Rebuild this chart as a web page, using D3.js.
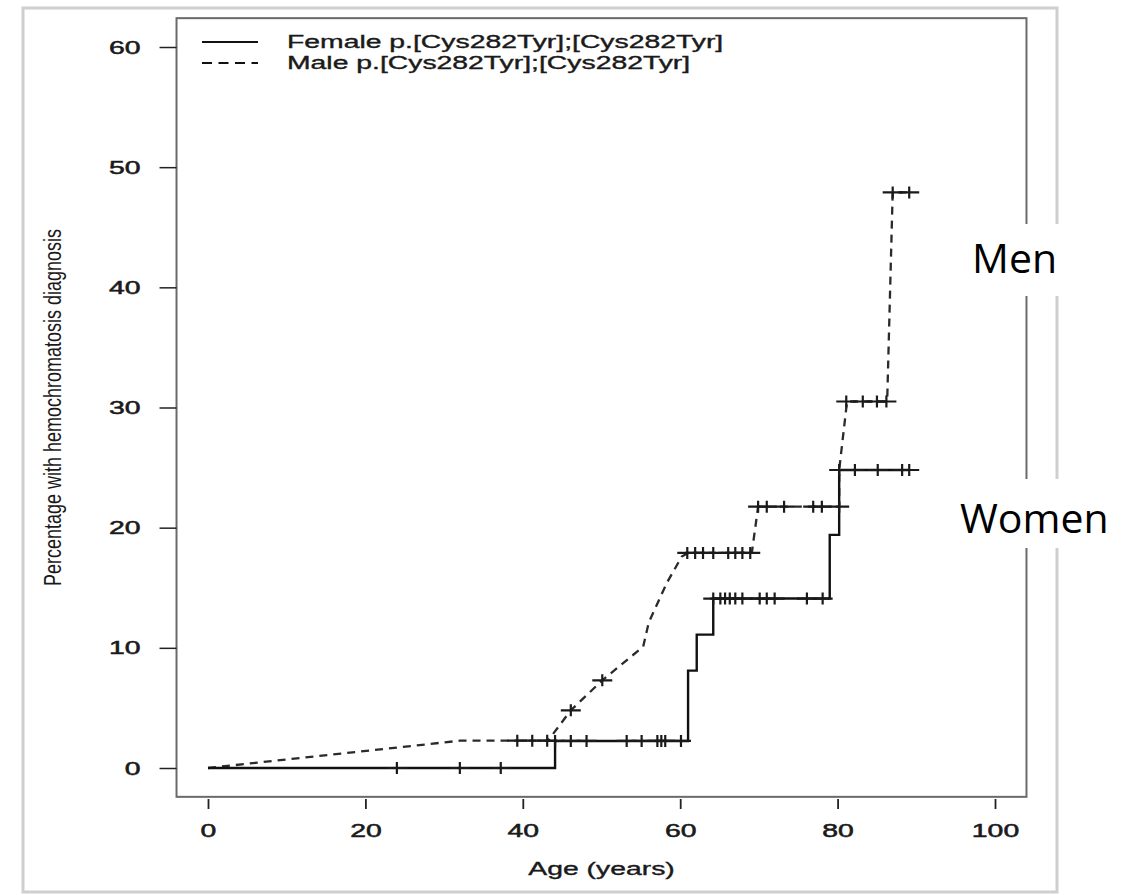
<!DOCTYPE html>
<html>
<head>
<meta charset="utf-8">
<script src="https://cdn.jsdelivr.net/npm/d3@7"></script>
<style>
  html, body { margin: 0; padding: 0; background: #fff; }
  svg { display: block; }
</style>
</head>
<body>
<svg id="chart" width="1132" height="895"></svg>
<script>
// ---------- data ----------
const xTicks = [0, 20, 40, 60, 80, 100];
const yTicks = [0, 10, 20, 30, 40, 50, 60];

// Female: Kaplan-Meier step curve
const femaleAge = [0, 44.1, 61.0, 62.1, 64.2, 79.0, 80.2, 89.1];
const femalePct = [0, 2.25, 8.1, 11.1, 14.1, 19.4, 24.8, 24.8];
const femaleCensorAge = [24.0, 32.0, 37.2, 44.1, 46.1, 48.1, 53.2, 55.1, 57.1, 57.6, 58.1, 60.1,
  64.2, 65.1, 65.7, 66.3, 67.0, 67.9, 70.1, 71.0, 72.0, 76.1, 78.1,
  80.2, 82.2, 85.1, 88.2, 89.1];
const femaleCensorPct = [0, 0, 0, 2.25, 2.25, 2.25, 2.25, 2.25, 2.25, 2.25, 2.25, 2.25,
  14.1, 14.1, 14.1, 14.1, 14.1, 14.1, 14.1, 14.1, 14.1, 14.1, 14.1,
  24.8, 24.8, 24.8, 24.8, 24.8];

// Male: curve as drawn (dashed)
const maleAge = [0, 32.0, 43.2, 46.1, 50.1, 55.3, 56.0, 58.3, 60.2, 61.0, 69.1, 69.9, 80.2, 80.2, 81.2, 86.3, 87.0, 89.1];
const malePct = [0, 2.27, 2.27, 4.8, 7.3, 10.1, 12.1, 15.4, 17.6, 17.9, 17.9, 21.75, 21.75, 24.8, 30.5, 30.5, 47.9, 47.9];
const maleCensorAge = [39.3, 41.2, 43.1, 46.1, 50.1,
  60.9, 61.9, 62.9, 64.2, 66.1, 67.0, 67.9, 68.9,
  69.9, 71.0, 73.2, 76.9, 78.0, 80.2,
  81.1, 83.2, 85.0, 86.2, 87.0, 89.1];
const maleCensorPct = [2.27, 2.27, 2.27, 4.8, 7.3,
  17.9, 17.9, 17.9, 17.9, 17.9, 17.9, 17.9, 17.9,
  21.75, 21.75, 21.75, 21.75, 21.75, 21.75,
  30.5, 30.5, 30.5, 30.5, 47.9, 47.9];

const legendLabels = ["Female p.[Cys282Tyr];[Cys282Tyr]", "Male p.[Cys282Tyr];[Cys282Tyr]"];
const xTitle = "Age (years)";
const yTitle = "Percentage with hemochromatosis diagnosis";
const sideLabels = ["Men", "Women"];

// ---------- drawing ----------
const SX = 1.62;            // horizontal stretch of the original figure
const FONT = "'Liberation Sans', Arial, Helvetica, sans-serif";
const svg = d3.select("#chart");

const x = d3.scaleLinear().domain([0, 100]).range([208, 995]);
const y = d3.scaleLinear().domain([0, 60]).range([768, 47]);

// outer frame
svg.append("rect").attr("x", 23).attr("y", 8).attr("width", 1034).attr("height", 884)
  .attr("fill", "#fff").attr("stroke", "#cfcfcf").attr("stroke-width", 3);

// plot box
svg.append("rect")
  .attr("x", x(-4)).attr("y", y(62.4))
  .attr("width", x(104) - x(-4)).attr("height", y(-2.4) - y(62.4))
  .attr("fill", "none").attr("stroke", "#6a6a6a").attr("stroke-width", 2);

function sText(g, tx, ty, str, size, anchor) {
  return g.append("text")
    .attr("transform", `translate(${tx},${ty}) scale(${SX},1)`)
    .attr("text-anchor", anchor || "start")
    .attr("font-family", FONT).attr("font-size", size).attr("fill", "#1a1a1a")
    .attr("stroke", "#1a1a1a").attr("stroke-width", 0.35)
    .text(str);
}

// x axis
const gx = svg.append("g").attr("transform", `translate(0,799)`)
  .call(d3.axisBottom(x).tickValues(xTicks).tickSize(10).tickFormat(d3.format("d")));
gx.select(".domain").remove();
gx.selectAll(".tick line").attr("stroke", "#222").attr("stroke-width", 1.8);
gx.selectAll(".tick text")
  .attr("y", 0).attr("dy", 0)
  .attr("transform", `translate(0,38) scale(${SX},1)`)
  .attr("font-family", FONT).attr("font-size", 17.5).attr("fill", "#1a1a1a")
  .attr("stroke", "#1a1a1a").attr("stroke-width", 0.5);

// y axis
const gy = svg.append("g").attr("transform", `translate(${x(-4)},0)`)
  .call(d3.axisLeft(y).tickValues(yTicks).tickSize(17).tickFormat(d3.format("d")));
gy.select(".domain").remove();
gy.selectAll(".tick line").attr("stroke", "#222").attr("stroke-width", 1.5);
gy.selectAll(".tick text")
  .attr("x", 0).attr("dy", 0)
  .attr("transform", `translate(-36,6) scale(${SX},1)`)
  .attr("font-family", FONT).attr("font-size", 17.5).attr("fill", "#1a1a1a")
  .attr("stroke", "#1a1a1a").attr("stroke-width", 0.5);

// axis titles
sText(svg, (x(0) + x(100)) / 2, 875, xTitle, 17.5, "middle");
svg.append("text")
  .attr("transform", `translate(61,${(y(-2.4) + y(62.4)) / 2}) scale(${SX * 0.85},1) rotate(-90)`)
  .attr("text-anchor", "middle")
  .attr("font-family", FONT).attr("font-size", 18).attr("fill", "#1a1a1a")
  .text(yTitle);

// curves
const femalePts = femaleAge.map((a, i) => [a, femalePct[i]]);
const malePts = maleAge.map((a, i) => [a, malePct[i]]);
const stepLine = d3.line().x(d => x(d[0])).y(d => y(d[1])).curve(d3.curveStepAfter);
const polyLine = d3.line().x(d => x(d[0])).y(d => y(d[1])).curve(d3.curveLinear);

svg.append("path").attr("d", polyLine(malePts))
  .attr("fill", "none").attr("stroke", "#2a2a2a").attr("stroke-width", 2.3)
  .attr("stroke-dasharray", "8,6");
svg.append("path").attr("d", stepLine(femalePts))
  .attr("fill", "none").attr("stroke", "#111").attr("stroke-width", 2.4);

// censor marks (+)
function plus(ages, pcts) {
  svg.append("g").selectAll("path")
    .data(ages.map((a, i) => [a, pcts[i]]))
    .join("path")
    .attr("d", d => {
      const cx = x(d[0]), cy = y(d[1]);
      return `M${cx - 10},${cy}H${cx + 10}M${cx},${cy - 6}V${cy + 6}`;
    })
    .attr("stroke", "#1a1a1a").attr("stroke-width", 2.2).attr("fill", "none");
}
plus(femaleCensorAge, femaleCensorPct);
plus(maleCensorAge, maleCensorPct);

// legend
const lg = svg.append("g");
lg.append("line").attr("x1", 202).attr("x2", 258).attr("y1", 42).attr("y2", 42)
  .attr("stroke", "#111").attr("stroke-width", 2);
lg.append("line").attr("x1", 202).attr("x2", 258).attr("y1", 63).attr("y2", 63)
  .attr("stroke", "#111").attr("stroke-width", 2).attr("stroke-dasharray", "10,6.5");
sText(lg, 287, 48, legendLabels[0], 17.5);
sText(lg, 287, 69, legendLabels[1], 17.5);

// side annotations with white backing
svg.append("rect").attr("x", 958).attr("y", 224).attr("width", 116).attr("height", 72).attr("fill", "#fff");
svg.append("rect").attr("x", 944).attr("y", 479).attr("width", 180).attr("height", 69).attr("fill", "#fff");
svg.append("text").attr("x", 972).attr("y", 273)
  .attr("font-family", "'Open Sans', sans-serif").attr("font-size", 41).attr("fill", "#000")
  .text(sideLabels[0]);
svg.append("text").attr("x", 960).attr("y", 533)
  .attr("font-family", "'Open Sans', sans-serif").attr("font-size", 41).attr("fill", "#000")
  .text(sideLabels[1]);
</script>
</body>
</html>
